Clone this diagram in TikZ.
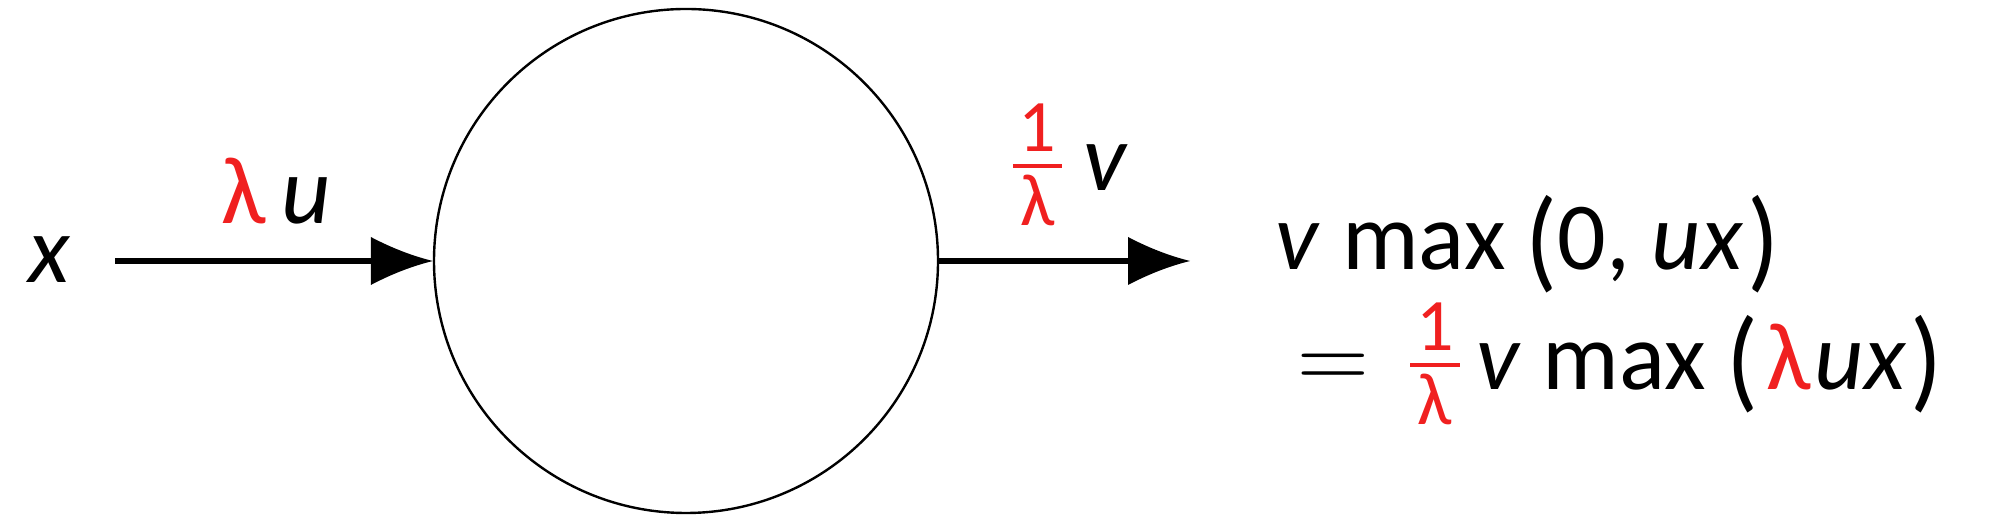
\documentclass[tikz,border=0pt]{standalone}
\usepackage{amsmath}
\usepackage{graphicx}
\usepackage{fontspec}
\setmainfont{Carlito}
\usepackage{tikz}
\usetikzlibrary{arrows.meta,positioning}
\definecolor{scalered}{RGB}{240,32,32}
\newcommand{\sv}[1]{\textit{#1}}
\newcommand{\fracpart}[1]{\hbox{\fontsize{18.5}{20}\selectfont\hspace{1.5pt}#1\hspace{1.5pt}}}
\newcommand{\invlam}{$\textstyle\frac{\fracpart{1}}{\fracpart{λ}}$}
\newcommand{\tallp}[1]{\raisebox{-2pt}{\scalebox{1.1}[1.17]{#1}}}
% arrow tip with hollowed sides
\pgfdeclarearrow{
  name = Swoop,
  parameters = {\the\pgfarrowlength,\the\pgfarrowwidth},
  setup code = {
    \pgfarrowssettipend{0pt}
    \pgfarrowssetbackend{-\pgfarrowlength}
    \pgfarrowssetlineend{-0.5\pgfarrowlength}
    \pgfarrowssavethe\pgfarrowlength
    \pgfarrowssavethe\pgfarrowwidth
    \pgfarrowsupperhullpoint{-\pgfarrowlength}{.5\pgfarrowwidth}
  },
  drawing code = {
    \pgfpathmoveto{\pgfpointorigin}
    \pgfpathquadraticcurveto{\pgfpoint{-.5\pgfarrowlength}{.16\pgfarrowwidth}}{\pgfpoint{-\pgfarrowlength}{.5\pgfarrowwidth}}
    \pgfpathlineto{\pgfpoint{-\pgfarrowlength}{-.5\pgfarrowwidth}}
    \pgfpathquadraticcurveto{\pgfpoint{-.5\pgfarrowlength}{-.16\pgfarrowwidth}}{\pgfpointorigin}
    \pgfpathclose
    \pgfusepathqfill
  },
  defaults = {length=15pt, width=12pt}
}

\begin{document}
\begin{tikzpicture}[x=0.25pt, y=-0.25pt,
  every node/.style={font=\fontsize{24}{28}\selectfont, inner sep=0pt},
  flow/.style={line width=1.3pt, -{Swoop[length=15.5pt, width=12pt]}}]
\useasboundingbox (0,0) rectangle (1999,531);
% ---- the unit
\node[draw, circle, line width=0.6pt, minimum size=126pt] (neuron) at (686,261) {};
% ---- input side
\node[anchor=base] (xin) at (50,283) {\sv{x}};
\coordinate (in) at (115,261);
\draw[flow] (in) -- (neuron.west);
\node[anchor=base] (win) at (276,224) {\textcolor{scalered}{λ}\,\sv{u}};
% ---- output side
\coordinate (out) at (1190,261);
\draw[flow] (neuron.east) -- (out);
\node[anchor=base] (wout) at (1068,191) {\textcolor{scalered}{\invlam}\hspace{4pt}\sv{v}};
% ---- result
\node[anchor=base west] (eqtop) at (1275,270)
  {\sv{v} max\hspace{5pt}\tallp{(}0, \sv{ux}\hspace{1pt}\tallp{)}};
\node[anchor=base west] (eqbot) at (1297,390)
  {$=$\hspace{9pt}\textcolor{scalered}{\invlam}\hspace{3pt}\sv{v} max\hspace{5pt}\tallp{(}\hspace{2pt}\textcolor{scalered}{λ}\hspace{1pt}\sv{ux}\hspace{1pt}\tallp{)}};
\end{tikzpicture}
\end{document}
